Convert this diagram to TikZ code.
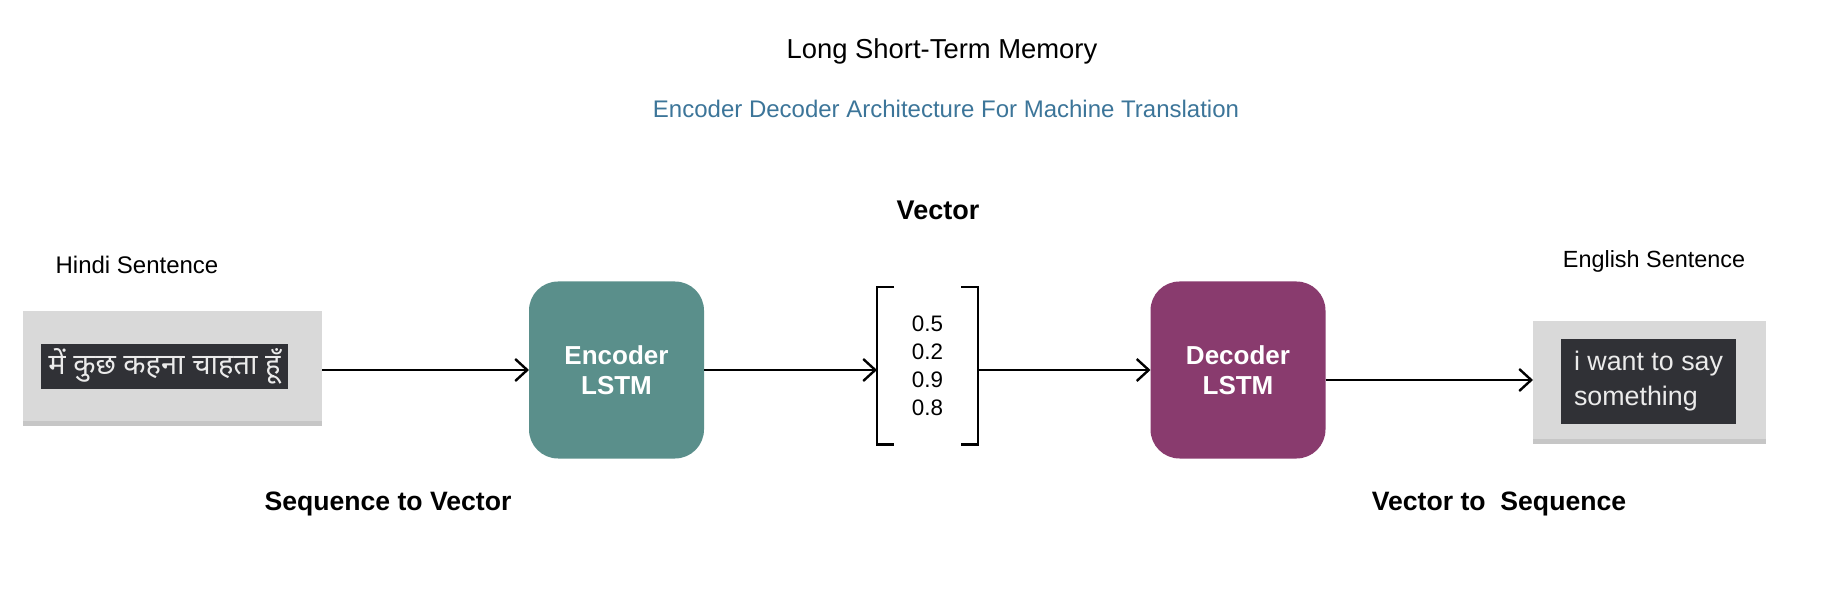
\documentclass[tikz,border=0pt]{standalone}
\usepackage{fontspec}
\setmainfont{Liberation Sans}
\newfontfamily\hindifont[Script=Devanagari]{Noto Sans}
\usetikzlibrary{arrows.meta,shadows}

\definecolor{enccol}{HTML}{5A8F8B}
\definecolor{deccol}{HTML}{893B6E}
\definecolor{boxgray}{HTML}{D9D9D9}
\definecolor{darkbox}{HTML}{303136}
\definecolor{subblue}{HTML}{3C7599}
\definecolor{lighttext}{HTML}{EBEBEB}

\begin{document}
\begin{tikzpicture}[x=0.5pt, y=-0.5pt, inner sep=0, outer sep=0,
    lstm/.style={rectangle, rounded corners=14.5pt, minimum width=87.5pt,
      minimum height=88.5pt, text=white, align=center,
      font=\fontsize{13}{15}\selectfont\bfseries},
    sentbox/.style={rectangle, fill=boxgray,
      drop shadow={shadow xshift=0pt, shadow yshift=-2.5pt, opacity=0.45}},
    textbox/.style={rectangle, fill=darkbox, text=lighttext},
    flow/.style={-{Straight Barb[length=6pt, width=11pt, line width=1.2pt]}, line width=1.2pt, black}]
  \useasboundingbox (0, 0) rectangle (1822, 604);

  % titles
  \node[font=\fontsize{13.7}{16}\selectfont] (title) at (942, 51) {Long Short-Term Memory};
  \node[font=\fontsize{12}{14}\selectfont, text=subblue] (subtitle) at (946, 109) {Encoder Decoder Architecture For Machine Translation};

  % input
  \node[sentbox, minimum width=149.5pt, minimum height=55pt] (hindi) at (172.5, 366) {};
  \node[textbox, minimum width=123.5pt, minimum height=22.5pt, font=\hindifont\fontsize{14.5}{16}\selectfont] (hinditext) at (164.5, 366.5) {में कुछ कहना चाहता हूँ};
  \node[font=\fontsize{12}{14}\selectfont] (hindilabel) at (137, 265) {Hindi Sentence};

  % encoder
  \node[lstm, fill=enccol] (enc) at (616.5, 370) {Encoder\\LSTM};
  \node[font=\fontsize{13.3}{15}\selectfont\bfseries] (seqvec) at (388, 504) {Sequence to Vector};

  % vector
  \node[minimum width=50.5pt, minimum height=78.5pt, align=center,
    font=\fontsize{11.2}{14}\selectfont] (vec) at (927.5, 366) {0.5\\0.2\\0.9\\0.8};
  \draw[line width=1pt] ([xshift=8.5pt]vec.north west) -- (vec.north west) -- (vec.south west) -- ([xshift=8.5pt]vec.south west);
  \draw[line width=1pt] ([xshift=-8.5pt]vec.north east) -- (vec.north east) -- (vec.south east) -- ([xshift=-8.5pt]vec.south east);
  \node[font=\fontsize{13.5}{15}\selectfont\bfseries] (veclabel) at (938, 210) {Vector};

  % decoder
  \node[lstm, fill=deccol] (dec) at (1238, 370) {Decoder\\LSTM};
  \node[font=\fontsize{13.3}{15}\selectfont\bfseries] (vecseq) at (1499, 504) {Vector to \ Sequence};

  % output
  \node[sentbox, minimum width=116.5pt, minimum height=59pt] (english) at (1649.5, 380) {};
  \node[textbox, minimum width=87.5pt, minimum height=42.5pt, align=left,
    font=\fontsize{13.4}{17.5}\selectfont] (englishtext) at (1648.5, 381.5) {i want to say\\something};
  \node[font=\fontsize{11.7}{14}\selectfont] (englishlabel) at (1654, 261) {English Sentence};

  % connections
  \draw[flow] (hindi.east |- enc) -- (enc.west);
  \draw[flow] (enc.east) -- (vec.west |- enc);
  \draw[flow] (vec.east |- dec) -- (dec.west);
  \draw[flow] (dec.east |- english) -- (english.west);
\end{tikzpicture}
\end{document}
